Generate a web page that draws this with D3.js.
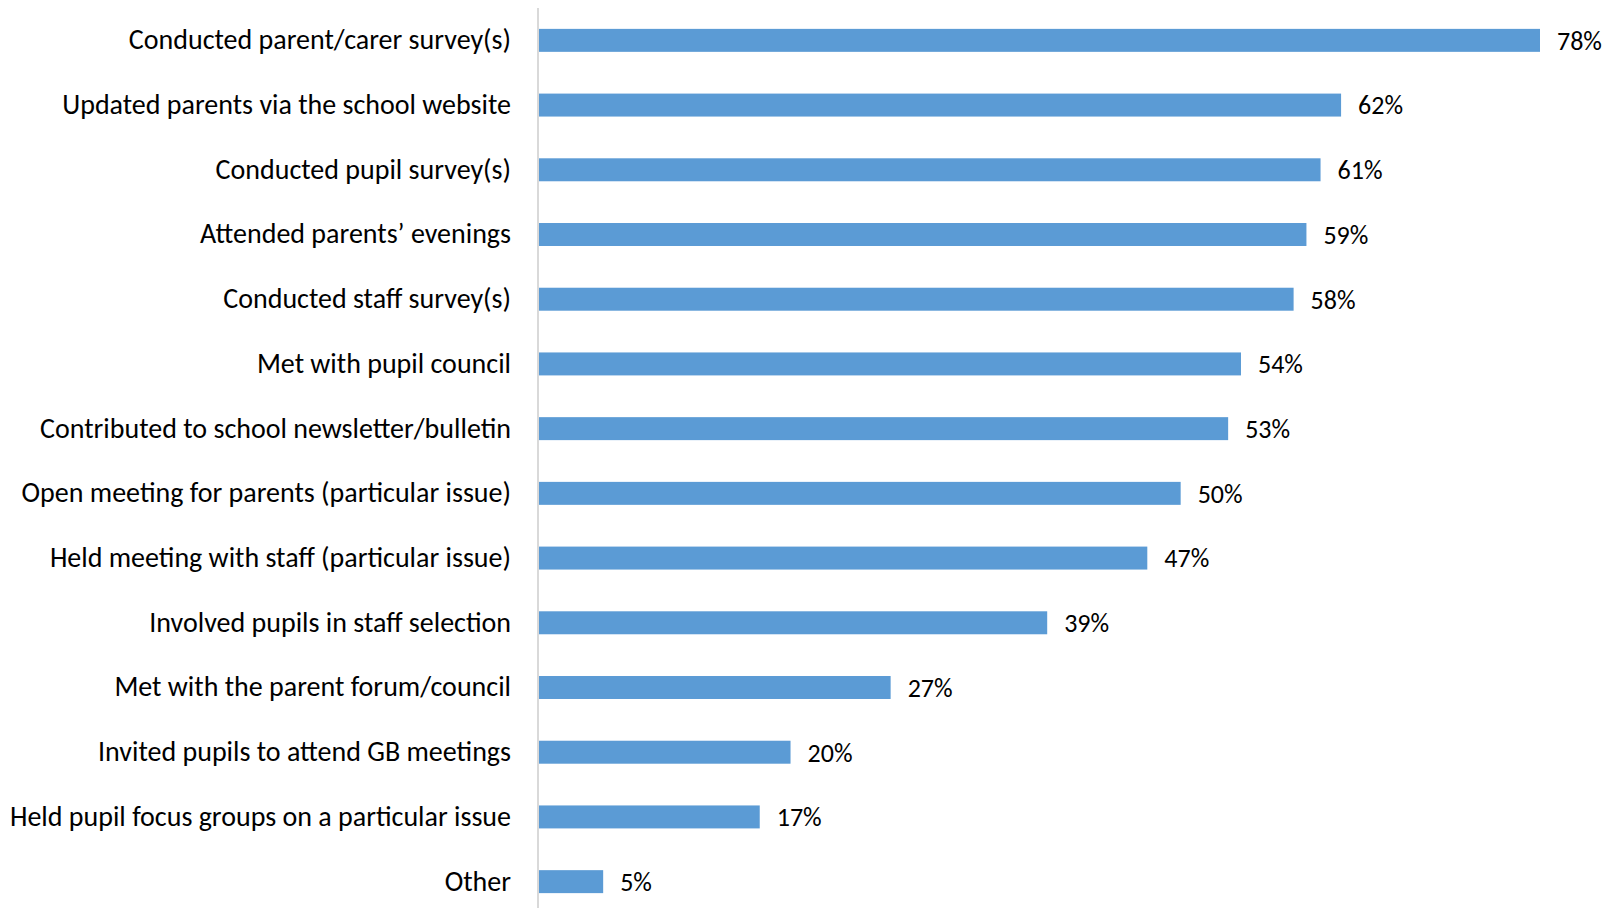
<!DOCTYPE html>
<head>
<meta charset="utf-8">
<script src="https://d3js.org/d3.v7.min.js"></script>
<style>
body {
  margin: 0;
  background-color: #fff;
}
text {
  font-family: Calibri, Carlito, Lato, sans-serif;
  fill: #000;
}
.axis text {
  font-size: 28px;
}
.values text {
  font-size: 26px;
}
.axis path {
  stroke: #d9d9d9;
  stroke-width: 2px;
}
</style>
</head>
<body>
<svg></svg>
<script>

var categories = [
  "Conducted parent/carer survey(s)",
  "Updated parents via the school website",
  "Conducted pupil survey(s)",
  "Attended parents\u2019 evenings",
  "Conducted staff survey(s)",
  "Met with pupil council",
  "Contributed to school newsletter/bulletin",
  "Open meeting for parents (particular issue)",
  "Held meeting with staff (particular issue)",
  "Involved pupils in staff selection",
  "Met with the parent forum/council",
  "Invited pupils to attend GB meetings",
  "Held pupil focus groups on a particular issue",
  "Other"
];
// bar lengths as drawn (percent)
var values = [78, 62.5, 60.9, 59.8, 58.8, 54.7, 53.7, 50, 47.4, 39.6, 27.4, 19.6, 17.2, 5];
// data labels as printed
var labels = ["78%", "62%", "61%", "59%", "58%", "54%", "53%", "50%", "47%", "39%", "27%", "20%", "17%", "5%"];

var width = 1614, height = 908;
var svg = d3.select("svg").attr("width", width).attr("height", height);

var x = d3.scaleLinear()
    .domain([0, 78])
    .range([539, 1540]);

var y = d3.scaleBand()
    .domain(categories)
    .range([8, 914])
    .paddingInner(0.645)
    .paddingOuter(0.3225);

// bars
svg.append("g")
  .selectAll("rect")
  .data(values)
  .enter().append("rect")
    .attr("x", x(0))
    .attr("y", function(d, i) { return y(categories[i]); })
    .attr("width", function(d) { return x(d) - x(0); })
    .attr("height", y.bandwidth())
    .attr("fill", "#5b9bd5");

// value labels
svg.append("g")
    .attr("class", "values")
  .selectAll("text")
  .data(values)
  .enter().append("text")
    .attr("x", function(d) { return x(d) + 17; })
    .attr("y", function(d, i) { return y(categories[i]) + y.bandwidth() / 2; })
    .attr("dy", "0.36em")
    .text(function(d, i) { return labels[i]; });

// category axis
var axis = svg.append("g")
    .attr("class", "axis")
    .attr("transform", "translate(538,0)")
    .call(d3.axisLeft(y).tickSize(0).tickPadding(27));

axis.select(".domain").attr("d", "M0,8V" + height);
axis.selectAll(".tick text")
    .attr("font-size", null)
    .attr("font-family", null)
    .attr("dy", "0.32em");

</script>
</body>
